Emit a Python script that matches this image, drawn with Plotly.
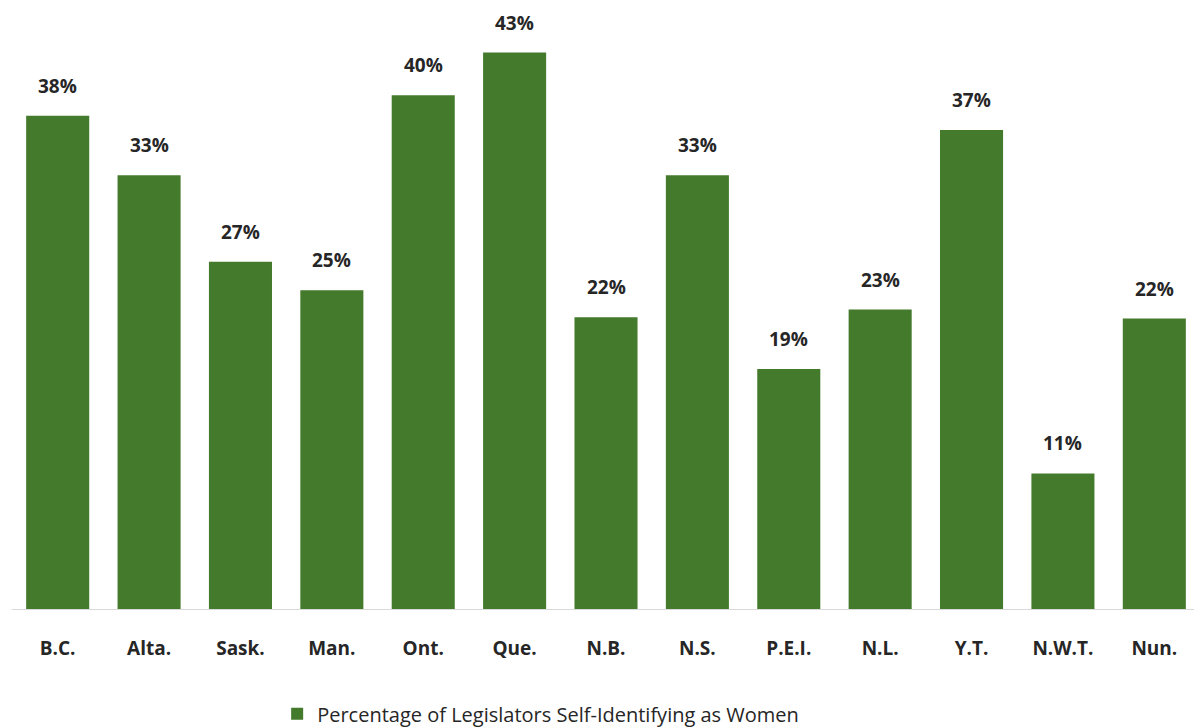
import plotly.graph_objects as go

# Provinces / territories and share of legislators self-identifying as women (%)
provinces = ["B.C.", "Alta.", "Sask.", "Man.", "Ont.", "Que.", "N.B.",
             "N.S.", "P.E.I.", "N.L.", "Y.T.", "N.W.T.", "Nun."]
pct_women = [38.2, 33.6, 26.9, 24.7, 39.8, 43.1, 22.6,
             33.6, 18.6, 23.2, 37.1, 10.5, 22.5]
pct_labels = ["38%", "33%", "27%", "25%", "40%", "43%", "22%",
              "33%", "19%", "23%", "37%", "11%", "22%"]

GREEN = "#447A2B"
FONT = "Open Sans"

fig = go.Figure()
fig.add_trace(go.Bar(
    x=provinces, y=pct_women,
    marker=dict(color=GREEN, line=dict(width=0)),
    name="Percentage of Legislators Self-Identifying as Women",
    showlegend=True,
))

# value labels above each bar
for p, v, lab in zip(provinces, pct_women, pct_labels):
    fig.add_annotation(
        x=p, y=v, text=f"<b>{lab}</b>", showarrow=False,
        yanchor="bottom", yshift=15,
        font=dict(family=FONT, size=19, color="#262626"),
    )

# page body adds an 8px offset, so margins are trimmed on top/left
fig.update_layout(
    width=1202, height=728,
    margin=dict(l=4, r=10, t=2, b=127),
    paper_bgcolor="white", plot_bgcolor="white",
    bargap=0.31,
    font=dict(family=FONT, color="#262626"),
    legend=dict(
        orientation="h", x=0.445, xanchor="center",
        y=-0.175, yanchor="middle", itemwidth=30,
        font=dict(family=FONT, size=20, color="#262626"),
    ),
    xaxis=dict(
        showline=True, linecolor="#d9d9d9", linewidth=1,
        showgrid=False, ticks="", ticklabelstandoff=22,
        tickfont=dict(family=FONT, size=19, color="#262626", weight="bold"),
    ),
    yaxis=dict(visible=False, range=[0, 46.4], showgrid=False),
)

fig.write_html("out.html")
